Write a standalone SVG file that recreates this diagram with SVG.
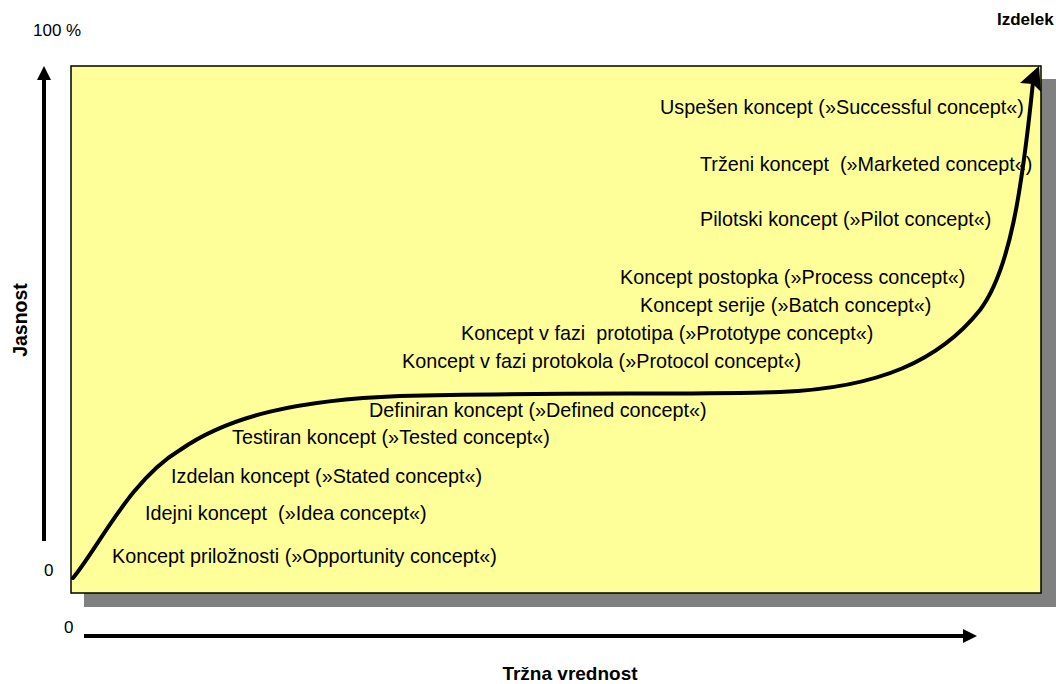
<svg xmlns="http://www.w3.org/2000/svg" width="1056" height="684" viewBox="0 0 1056 684">
  <style>
    .lbl { font-family: "Liberation Sans", Arial, sans-serif; font-size: 19.8px; fill: #000; white-space: pre; }
    .axis { font-family: "Liberation Sans", Arial, sans-serif; font-size: 17px; fill: #000; }
    .title { font-family: "Liberation Sans", Arial, sans-serif; font-weight: bold; fill: #000; }
    .axisline { stroke: #000; stroke-width: 4; fill: none; }
  </style>
  <defs>
    <marker id="axhead" viewBox="0 0 14 14" refX="0" refY="7" markerWidth="14" markerHeight="14" markerUnits="userSpaceOnUse" orient="auto">
      <path d="M0,0 L14,7 L0,14 Z" fill="#000"/>
    </marker>
  </defs>
  <rect width="1056" height="684" fill="#fff"/>

  <!-- plot panel with drop shadow -->
  <g id="panel">
    <rect x="84" y="79" width="972" height="528" fill="#808080"/>
    <rect x="71" y="66" width="970" height="527" fill="#ffff99" stroke="#000" stroke-width="1.5"/>
  </g>

  <!-- axes -->
  <g id="axes">
    <line class="axisline" x1="44" y1="541" x2="44" y2="80" marker-end="url(#axhead)"/>
    <line class="axisline" x1="84" y1="636" x2="963" y2="636" marker-end="url(#axhead)"/>
    <text class="axis" x="33" y="36">100 %</text>
    <text class="axis" x="44" y="576">0</text>
    <text class="axis" x="64" y="633">0</text>
    <text class="title" font-size="19" x="570" y="680" text-anchor="middle">Tržna vrednost</text>
    <text class="title" font-size="19.5" transform="translate(27,320) rotate(-90)" text-anchor="middle">Jasnost</text>
    <text class="title" font-size="17" x="997" y="25">Izdelek</text>
  </g>

  <!-- maturity curve -->
  <g id="connectors">
    <path d="M73,578 C100,545 130,480 180,450 C230,415 300,400 400,396 C550,392 700,395 780,392 C880,388 940,360 980,310 C1010,270 1022,190 1033,82" fill="none" stroke="#000" stroke-width="4" stroke-linecap="round"/>
    <polygon points="1039,66 1041,92 1033,84 1020,83" fill="#000"/>
  </g>

  <!-- concept stages -->
  <g id="stages">
    <text class="lbl" x="112" y="563">Koncept priložnosti (»Opportunity concept«)</text>
    <text class="lbl" x="145" y="520">Idejni koncept  (»Idea concept«)</text>
    <text class="lbl" x="171" y="483">Izdelan koncept (»Stated concept«)</text>
    <text class="lbl" x="232" y="444">Testiran koncept (»Tested concept«)</text>
    <text class="lbl" x="369" y="417">Definiran koncept (»Defined concept«)</text>
    <text class="lbl" x="402" y="368">Koncept v fazi protokola (»Protocol concept«)</text>
    <text class="lbl" x="461" y="340">Koncept v fazi  prototipa (»Prototype concept«)</text>
    <text class="lbl" x="640" y="312">Koncept serije (»Batch concept«)</text>
    <text class="lbl" x="620" y="284">Koncept postopka (»Process concept«)</text>
    <text class="lbl" x="700" y="226">Pilotski koncept (»Pilot concept«)</text>
    <text class="lbl" x="700" y="171">Trženi koncept  (»Marketed concept«)</text>
    <text class="lbl" x="660" y="114">Uspešen koncept (»Successful concept«)</text>
  </g>
</svg>
